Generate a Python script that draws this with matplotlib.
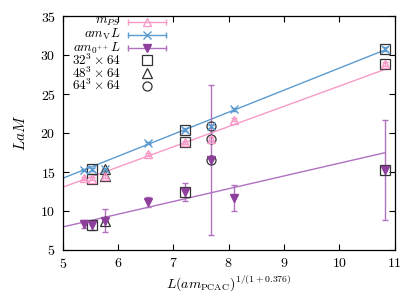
import matplotlib
matplotlib.use('Agg')
import matplotlib.pyplot as plt

plt.rcParams['font.family'] = 'serif'
plt.rcParams['font.serif'] = ['cmr10', 'DejaVu Serif']
plt.rcParams['mathtext.fontset'] = 'cm'
plt.rcParams['axes.formatter.use_mathtext'] = True

# data
xs = [5.38, 5.53, 5.76, 6.55, 7.21, 7.68, 8.10, 10.83]
m_ps = [14.2, 14.15, 14.55, 17.3, 18.85, 19.25, 21.7, 28.85]
m_ps_err = [0.2, 0.2, 0.25, 0.2, 0.2, 0.25, 0.2, 0.25]
m_v = [15.25, 15.35, 15.35, 18.7, 20.45, 20.9, 23.05, 30.8]
m_v_err = [0.15, 0.15, 0.2, 0.15, 0.15, 0.2, 0.15, 0.2]
m_0pp = [8.35, 8.15, 8.75, 11.2, 12.45, 16.55, 11.65, 15.3]
m_0pp_err = [0.5, 0.6, 1.45, 0.65, 1.1, 9.6, 1.7, 6.4]
volume = ['', '32', '48', '', '32', '64', '', '32']

# straight-line fits (end points)
fit_x = [5.0, 10.83]
fit_ps = [13.05, 28.2]
fit_v = [14.2, 30.7]
fit_0pp = [7.95, 17.5]

c_ps = '#f79ac8'
c_v = '#5b9bd0'
c_0pp = '#8e3f9c'
c_0pp_line = '#b071bf'

fig = plt.figure(figsize=(4.15, 2.92), dpi=100)
ax = fig.add_axes([0.151, 0.144, 0.800, 0.800])

ax.plot(fit_x, fit_ps, color=c_ps, lw=1.0)
ax.plot(fit_x, fit_v, color=c_v, lw=1.0)
ax.plot(fit_x, fit_0pp, color=c_0pp_line, lw=1.0)

ax.errorbar(xs, m_ps, yerr=m_ps_err, fmt='^', color=c_ps, mfc='none', mec=c_ps,
            ms=5.5, mew=1.0, elinewidth=1.0, capsize=2)
ax.errorbar(xs, m_v, yerr=m_v_err, fmt='x', color=c_v, ms=6, mew=1.0,
            elinewidth=1.0, capsize=2)
ax.errorbar(xs, m_0pp, yerr=m_0pp_err, fmt='v', color=c_0pp_line, mfc=c_0pp,
            mec=c_0pp, ms=5.5, elinewidth=1.0, capsize=2)

vol_marker = {'32': 's', '48': '^', '64': 'o'}
vol_size = {'32': 7, '48': 7.5, '64': 6.5}
for x, a, b, c, v in zip(xs, m_ps, m_v, m_0pp, volume):
    if v:
        ax.plot([x, x, x], [a, b, c], ls='none', marker=vol_marker[v],
                ms=vol_size[v], mfc='none', mec='#333333', mew=0.9)

ax.set_xlim(5, 11)
ax.set_ylim(5, 35)
ax.set_xticks([5, 6, 7, 8, 9, 10, 11])
ax.set_yticks([5, 10, 15, 20, 25, 30, 35])
ax.tick_params(direction='in', top=True, right=True, labelsize=10, length=4,
               width=0.8, pad=5)
for s in ax.spines.values():
    s.set_linewidth(0.9)

ax.set_xlabel(r'$L(am_{\rm PCAC})^{1/(1+0.376)}$', fontsize=10, labelpad=2)
ax.set_ylabel(r'$LaM$', fontsize=11, labelpad=9)

# gnuplot-style key: text on the left, sample on the right
tx = 0.175
lx = [0.197, 0.311]
mx = 0.254
rows = [0.975, 0.921, 0.865, 0.812, 0.758, 0.703]
keys = [(r'$m_{PS}$', c_ps, '^', 'none'),
        (r'$am_{\rm V}L$', c_v, 'x', c_v),
        (r'$am_{0^{++}}L$', c_0pp_line, 'v', c_0pp)]
for (lab, col, mk, fc), y in zip(keys, rows[:3]):
    ax.text(tx, y, lab, transform=ax.transAxes, ha='right', va='center', fontsize=9.5)
    ax.plot(lx, [y, y], color=col, lw=1.0, transform=ax.transAxes, clip_on=False)
    ax.plot(lx, [y, y], ls='none', marker='|', ms=4, color=col, mew=1.0,
            transform=ax.transAxes, clip_on=False)
    ax.plot([mx], [y], ls='none', marker=mk, ms=6, mfc=fc,
            mec=c_0pp if mk == 'v' else col, mew=1.0, transform=ax.transAxes)
vol_labels = [(r'$32^3\times 64$', '32'), (r'$48^3\times 64$', '48'), (r'$64^3\times 64$', '64')]
for (lab, v), y in zip(vol_labels, rows[3:]):
    ax.text(tx, y, lab, transform=ax.transAxes, ha='right', va='center', fontsize=9.5)
    ax.plot([mx], [y], ls='none', marker=vol_marker[v], ms=vol_size[v],
            mfc='none', mec='#333333', mew=0.9, transform=ax.transAxes)

fig.savefig('out.png', dpi=100)
